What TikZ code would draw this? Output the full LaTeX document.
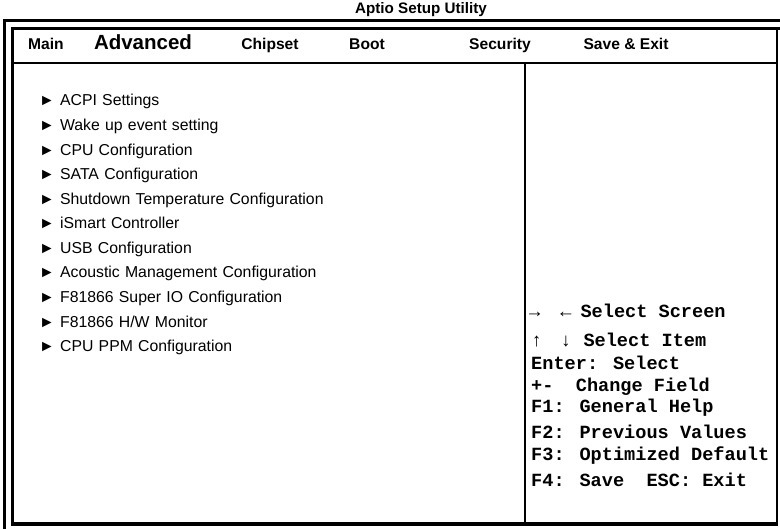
\documentclass[tikz,border=0pt]{standalone}
\usepackage{fontspec}
\setmainfont{Liberation Sans}
\newfontfamily\keyfont{Liberation Mono}
\usetikzlibrary{positioning}

\tikzset{
  frame/.style={line width=3.5pt},
  rule/.style={line width=2pt},
  tab/.style={font=\bfseries\fontsize{15.6}{18}\selectfont, anchor=base, inner sep=0pt},
  item/.style={font=\fontsize{15.8}{19}\selectfont, text width=300pt, align=left,
               text height=11pt, text depth=3pt, inner sep=0pt},
  keyhelp/.style={font=\keyfont\bfseries\fontsize{18.6}{22}\selectfont, anchor=base west, inner sep=0pt}
}

\begin{document}
\begin{tikzpicture}[x=1pt, y=-1pt, node distance=24.57pt]
    \useasboundingbox (0,0) rectangle (780,529);
    % Frame
    \draw [frame] (4.5,529) -- (4.5,20.5) -- (780,20.5);
    \draw [frame] (780,28.5) -- (12.5,28.5) -- (12.5,524) -- (778,524);
    \draw [rule] (777,28.5) -- (777,524);
    \draw [line width=2.5pt] (12.5,63) -- (777,63);
    \draw [rule] (525,63) -- (525,524);
    % Title and tabs
    \node [tab, font=\bfseries\fontsize{15.2}{17}\selectfont] (title) at (421,14) {Aptio Setup Utility};
    \node [tab] (main) at (46,50) {Main};
    \node [tab, font=\bfseries\fontsize{20.5}{23}\selectfont] (advanced) at (143,50) {Advanced};
    \node [tab] (chipset) at (270,50) {Chipset};
    \node [tab] (boot) at (367,50) {Boot};
    \node [tab] (security) at (500,50) {Security};
    \node [tab] (saveexit) at (626,50) {Save \& Exit};
    % Menu items
    \node [item, anchor=west] (acpi) at (39,102) {► ACPI Settings};
    \node [item, below of=acpi] (wake) {► Wake up event setting};
    \node [item, below of=wake] (cpu) {► CPU Configuration};
    \node [item, below of=cpu] (sata) {► SATA Configuration};
    \node [item, below of=sata] (shutdown) {► Shutdown Temperature Configuration};
    \node [item, below of=shutdown] (ismart) {► iSmart Controller};
    \node [item, below of=ismart] (usb) {► USB Configuration};
    \node [item, below of=usb] (acoustic) {► Acoustic Management Configuration};
    \node [item, below of=acoustic] (superio) {► F81866 Super IO Configuration};
    \node [item, below of=superio] (hwmon) {► F81866 H/W Monitor};
    \node [item, below of=hwmon] (cpuppm) {► CPU PPM Configuration};
    % Key help
    \node [keyhelp] (selscreen) at (529,318) {→\hspace{20pt}←\hspace{9pt}Select Screen};
    \node [keyhelp] (selitem) at (531,347) {↑\hspace{18pt}↓\hspace{12pt}Select Item};
    \node [keyhelp] (enter) at (531,370) {Enter: Select};
    \node [keyhelp] (change) at (531,392) {+-~ Change Field};
    \node [keyhelp] (fone) at (531,413) {F1: General Help};
    \node [keyhelp] (ftwo) at (531,439) {F2: Previous Values};
    \node [keyhelp] (fthree) at (531,461) {F3: Optimized Default};
    \node [keyhelp] (ffour) at (531,486) {F4: Save~ ESC: Exit};
\end{tikzpicture}
\end{document}
